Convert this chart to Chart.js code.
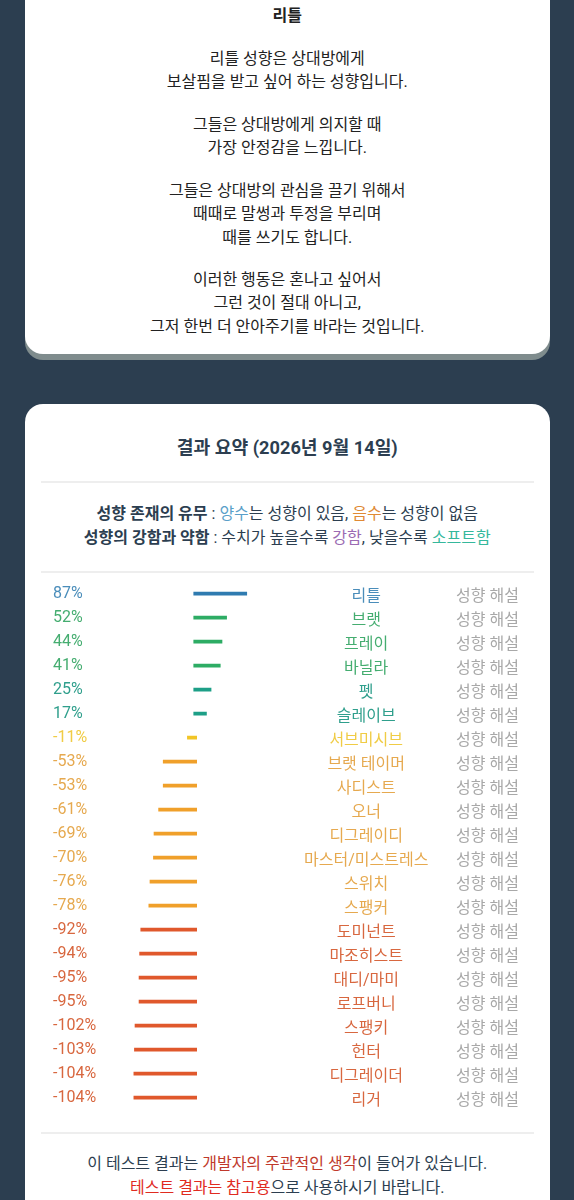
<!DOCTYPE html>
<html lang="ko">
<head>
<meta charset="utf-8">
<title>결과 요약</title>
<script src="https://cdn.jsdelivr.net/npm/chart.js@4/dist/chart.umd.min.js"></script>
<style>
  html, body {
    margin: 0;
    height: 1200px;
    overflow: hidden;
    background: #2c3e50;
    font-family: Roboto, "Noto Sans CJK KR", sans-serif;
    color: #2c3e50;
  }
  .card {
    position: absolute;
    left: 24.5px;
    width: 525.5px;
    background: #fff;
    border-radius: 18px;
    text-align: center;
  }
  #topCard {
    top: -40px;
    height: 394px;
    box-shadow: 0 6px 0 #7f8c8d;
    color: #222;
    font-size: 16px;
    line-height: 23.3px;
  }
  #summaryCard { top: 404px; height: 900px; }
  .txt { position: absolute; left: 0; right: 0; }
  hr {
    position: absolute;
    left: 16px;
    right: 16px;
    margin: 0;
    border: 0;
    border-top: 2px solid #eee;
  }
  h2 { margin: 0; font-size: 18.2px; font-weight: 700; }
  .info { font-size: 16px; line-height: 23.6px; }
  .note { font-size: 16px; line-height: 23.6px; }
  .chartBox { position: absolute; left: 0; top: 571.6px; width: 574px; height: 547.2px; }
  b { font-weight: 700; }
</style>
</head>
<body>

<div class="card" id="topCard">
  <div class="txt" style="top:44px"><b>리틀</b></div>
  <div class="txt" style="top:87px">리틀 성향은 상대방에게<br>보살핌을 받고 싶어 하는 성향입니다.</div>
  <div class="txt" style="top:153px">그들은 상대방에게 의지할 때<br>가장 안정감을 느낍니다.</div>
  <div class="txt" style="top:219px">그들은 상대방의 관심을 끌기 위해서<br>때때로 말썽과 투정을 부리며<br>때를 쓰기도 합니다.</div>
  <div class="txt" style="top:308px">이러한 행동은 혼나고 싶어서<br>그런 것이 절대 아니고,<br>그저 한번 더 안아주기를 바라는 것입니다.</div>
</div>

<div class="card" id="summaryCard">
  <h2 class="txt" style="top:29px">결과 요약 (2026년 9월 14일)</h2>
  <hr style="top:77px">
  <div class="txt info" style="top:98px">
    <b>성향 존재의 유무</b> : <span style="color:#5a9fc9">양수</span>는 성향이 있음, <span style="color:#e08a35">음수</span>는 성향이 없음<br>
    <b>성향의 강함과 약함</b> : 수치가 높을수록 <span style="color:#9b6bb3">강함</span>, 낮을수록 <span style="color:#35b89c">소프트함</span>
  </div>
  <hr style="top:167px">
  <hr style="top:728px">
  <div class="txt note" style="top:748px">
    이 테스트 결과는 <span style="color:#c0392b">개발자의 주관적인 생각</span>이 들어가 있습니다.<br>
    <span style="color:#e02b1f">테스트 결과는 참고용</span>으로 사용하시기 바랍니다.
  </div>
</div>

<div class="chartBox"><canvas id="chartResult"></canvas></div>

<script>
const names = [
  "리틀", "브랫", "프레이", "바닐라", "펫", "슬레이브", "서브미시브", "브랫 테이머",
  "사디스트", "오너", "디그레이디", "마스터/미스트레스", "스위치", "스팽커", "도미넌트",
  "마조히스트", "대디/마미", "로프버니", "스팽키", "헌터", "디그레이더", "리거",
];
const values = [87, 52, 44, 41, 25, 17, -11, -53, -53, -61, -69, -70, -76, -78, -92, -94, -95, -95, -102, -103, -104, -104];
const barColors = [
  "#2f7bb0", "#2dac64", "#2dac64", "#2dac64", "#1d9f87", "#1d9f87", "#f2c526", "#f0a02a",
  "#f0a02a", "#f0a02a", "#f0a02a", "#f0a02a", "#f0a02a", "#f0a02a", "#e0582c", "#e0582c",
  "#e0582c", "#e0582c", "#e0582c", "#e0582c", "#e0582c", "#e0582c",
];
const textColors = [
  "#4a8dba", "#45ad70", "#45ad70", "#45ad70", "#2f9f8c", "#2f9f8c", "#f0cc45", "#e6a94f",
  "#e6a94f", "#e6a94f", "#e6a94f", "#e6a94f", "#e6a94f", "#e6a94f", "#d8673f", "#d8673f",
  "#d8673f", "#d8673f", "#d8673f", "#d8673f", "#d8673f", "#d8673f",
];
const percentLabels = values.map((v) => v + "%");
const linkLabel = "성향 해설";

const fontFamily = 'Roboto, "Noto Sans CJK KR", sans-serif';
const tickFont = { family: fontFamily, size: 16 };
// names sit a bit lower than the percents: an empty first line with this line height pushes them down
const lowFont = { family: fontFamily, size: 16, lineHeight: "7.6px" };

function fixedWidth(w) {
  return (scale) => {
    scale.width = w;
  };
}

function rowAxis(position, width, weight, ticks) {
  return {
    type: "category",
    position: position,
    offset: true,
    labels: names,
    weight: weight,
    afterFit: fixedWidth(width),
    grid: { display: false, drawTicks: false },
    border: { display: false },
    ticks: { padding: 0, autoSkip: false, ...ticks },
  };
}

// every row is a short line from zero to its value, square caps like the original
const datasets = values.map((v, i) => ({
  data: [
    { x: 0, y: i },
    { x: v, y: i },
  ],
  yAxisID: "yBar",
  borderColor: barColors[i],
  borderWidth: 3.6,
  borderCapStyle: "square",
  pointRadius: 0,
}));

new Chart(document.getElementById("chartResult"), {
  type: "line",
  data: { labels: names, datasets: datasets },
  options: {
    responsive: true,
    maintainAspectRatio: false,
    animation: false,
    events: [],
    layout: { padding: { left: 53, right: 42, top: 0, bottom: 0 } },
    plugins: { legend: { display: false }, tooltip: { enabled: false } },
    scales: {
      x: { type: "linear", min: -148, max: 189, display: false },
      yBar: { type: "linear", reverse: true, min: -0.5, max: 21.5, display: false },
      y: rowAxis("left", 57, 0, {
        crossAlign: "far",
        font: tickFont,
        color: (ctx) => textColors[ctx.index],
        callback: (val, i) => percentLabels[i],
      }),
      yName: rowAxis("right", 152, 1, {
        crossAlign: "center",
        font: lowFont,
        color: (ctx) => textColors[ctx.index],
        callback: (val, i) => ["", names[i]],
      }),
      yLink: rowAxis("right", 76, 2, {
        crossAlign: "center",
        font: lowFont,
        color: "#a8a8a8",
        callback: () => ["", linkLabel],
      }),
    },
  },
});
</script>
</body>
</html>
